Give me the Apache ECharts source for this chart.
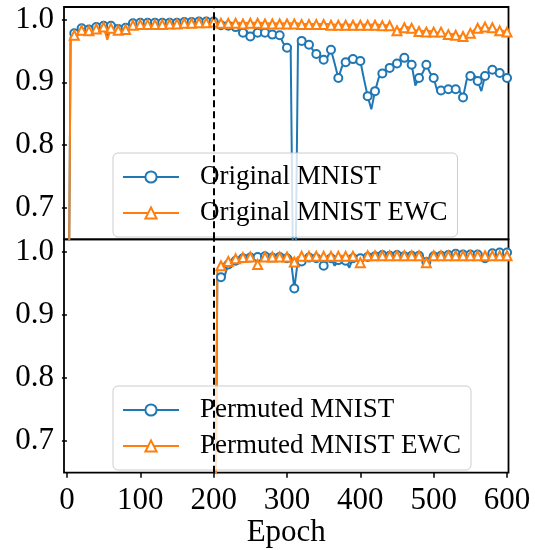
<!DOCTYPE html>
<html>
<head>
<meta charset="utf-8">
<script src="https://cdn.jsdelivr.net/npm/echarts@6/dist/echarts.min.js"></script>
<style>
html, body { margin: 0; padding: 0; background: #fff; }
#main { width: 535px; height: 550px; }
</style>
</head>
<body>
<div id="main"></div>
<script>
// epochs are logged every 5, a marker is drawn every 10
var epochStep = 5;
var markEvery = 10;
var xTicks = [0, 100, 200, 300, 400, 500, 600];
var yTicks = [0.7, 0.8, 0.9, 1.0];
var switchEpoch = 200;

// top panel, epochs 0..600
var origMnist = [
	0.10, 0.972, 0.978, 0.982, 0.986, 0.989, 0.984, 0.982, 0.988, 0.992,
	0.990, 0.972, 0.990, 0.992, 0.985, 0.984, 0.987, 0.990, 0.994, 0.996,
	0.995, 0.994, 0.995, 0.994, 0.995, 0.994, 0.995, 0.994, 0.995, 0.996,
	0.995, 0.995, 0.996, 0.995, 0.996, 0.996, 0.997, 0.996, 0.997, 0.998,
	0.997, 0.995, 0.991, 0.989, 0.990, 0.987, 0.988, 0.984, 0.979, 0.982,
	0.973, 0.981, 0.979, 0.982, 0.979, 0.980, 0.976, 0.978, 0.975, 0.962,
	0.955, 0.958, 0.400, 0.962, 0.966, 0.962, 0.960, 0.952, 0.945, 0.939,
	0.936, 0.940, 0.952, 0.930, 0.907, 0.925, 0.932, 0.940, 0.937, 0.939,
	0.934, 0.905, 0.878, 0.857, 0.886, 0.907, 0.914, 0.918, 0.923, 0.926,
	0.930, 0.937, 0.939, 0.936, 0.928, 0.895, 0.907, 0.915, 0.928, 0.915,
	0.907, 0.886, 0.887, 0.888, 0.889, 0.888, 0.889, 0.887, 0.876, 0.904,
	0.910, 0.912, 0.902, 0.886, 0.910, 0.916, 0.920, 0.918, 0.915, 0.912,
	0.907
];
var origEwc = [
	0.10, 0.965, 0.975, 0.980, 0.983, 0.986, 0.982, 0.980, 0.985, 0.990,
	0.988, 0.968, 0.986, 0.990, 0.983, 0.982, 0.984, 0.987, 0.991, 0.993,
	0.992, 0.991, 0.992, 0.993, 0.992, 0.993, 0.992, 0.993, 0.993, 0.994,
	0.993, 0.994, 0.994, 0.995, 0.994, 0.995, 0.995, 0.996, 0.995, 0.996,
	0.996, 0.995, 0.994, 0.995, 0.994, 0.995, 0.994, 0.995, 0.993, 0.995,
	0.994, 0.995, 0.994, 0.995, 0.993, 0.994, 0.993, 0.994, 0.993, 0.994,
	0.993, 0.994, 0.993, 0.994, 0.992, 0.993, 0.992, 0.993, 0.992, 0.993,
	0.992, 0.993, 0.991, 0.992, 0.991, 0.992, 0.991, 0.992, 0.991, 0.992,
	0.991, 0.992, 0.991, 0.992, 0.991, 0.992, 0.990, 0.991, 0.990, 0.983,
	0.982, 0.985, 0.987, 0.988, 0.986, 0.983, 0.981, 0.982, 0.980, 0.982,
	0.980, 0.979, 0.980, 0.977, 0.976, 0.977, 0.975, 0.974, 0.973, 0.971,
	0.978, 0.983, 0.986, 0.987, 0.988, 0.986, 0.987, 0.984, 0.982, 0.982,
	0.980
];

// bottom panel, epochs 200..600
var permMnist = [
	0.10, 0.957, 0.960, 0.962, 0.980, 0.984, 0.986, 0.987, 0.990, 0.989,
	0.991, 0.990, 0.992, 0.991, 0.993, 0.992, 0.991, 0.993, 0.992, 0.991,
	0.990, 0.991, 0.942, 0.988, 0.985, 0.990, 0.991, 0.990, 0.990, 0.988,
	0.978, 0.985, 0.990, 0.978, 0.987, 0.990, 0.986, 0.975, 0.990, 0.991,
	0.990, 0.993, 0.992, 0.994, 0.993, 0.991, 0.995, 0.993, 0.994, 0.992,
	0.995, 0.994, 0.993, 0.995, 0.994, 0.992, 0.994, 0.990, 0.984, 0.990,
	0.993, 0.995, 0.994, 0.996, 0.995, 0.996, 0.997, 0.994, 0.996, 0.997,
	0.996, 0.998, 0.996, 0.994, 0.990, 0.995, 0.998, 0.997, 0.999, 0.999,
	0.999
];
var permEwc = [
	0.10, 0.970, 0.978, 0.982, 0.985, 0.987, 0.989, 0.990, 0.991, 0.990,
	0.992, 0.990, 0.980, 0.991, 0.992, 0.993, 0.992, 0.993, 0.992, 0.993,
	0.992, 0.993, 0.984, 0.992, 0.993, 0.992, 0.993, 0.992, 0.993, 0.992,
	0.993, 0.992, 0.993, 0.992, 0.993, 0.994, 0.993, 0.994, 0.993, 0.994,
	0.983, 0.993, 0.994, 0.993, 0.994, 0.993, 0.994, 0.993, 0.994, 0.993,
	0.994, 0.993, 0.994, 0.993, 0.994, 0.993, 0.994, 0.993, 0.983, 0.993,
	0.994, 0.993, 0.994, 0.993, 0.994, 0.993, 0.994, 0.993, 0.994, 0.993,
	0.994, 0.993, 0.994, 0.993, 0.994, 0.993, 0.994, 0.993, 0.994, 0.993,
	0.994
];

var FONT = '"Liberation Serif", "DejaVu Serif", serif';
var BLUE = '#1f77b4';
var ORANGE = '#ff7f0e';

function toPoints(start, values) {
	return values.map(function(v, i) {
		var e = start + i * epochStep;
		var p = { value: [e, v] };
		if (e % markEvery !== 0) p.symbol = 'none';
		return p;
	});
}

function xAxisFor(idx, showLabels) {
	return {
		type: 'value',
		gridIndex: idx,
		min: -4,
		max: 602,
		axisLine: { show: false },
		splitLine: { show: false },
		axisTick: {
			show: showLabels,
			customValues: xTicks,
			length: 5,
			lineStyle: { color: '#000', width: 1.5 }
		},
		axisLabel: {
			show: showLabels,
			customValues: xTicks,
			margin: 13,
			color: '#000',
			fontFamily: FONT,
			fontSize: 31
		},
		name: showLabels ? 'Epoch' : '',
		nameLocation: 'middle',
		nameGap: 45,
		nameTextStyle: { color: '#000', fontFamily: FONT, fontSize: 31 }
	};
}

function yAxisFor(idx) {
	return {
		type: 'value',
		gridIndex: idx,
		min: 0.65,
		max: 1.02,
		axisLine: { show: false },
		splitLine: { show: false },
		axisTick: {
			show: true,
			customValues: yTicks,
			length: 5,
			lineStyle: { color: '#000', width: 1.5 }
		},
		axisLabel: {
			customValues: yTicks,
			margin: 10,
			color: '#000',
			fontFamily: FONT,
			fontSize: 31,
			formatter: function(v) { return v.toFixed(1); }
		}
	};
}

function lineSeries(name, idx, start, values, color, symbol, size, withMark) {
	var s = {
		name: name,
		type: 'line',
		xAxisIndex: idx,
		yAxisIndex: idx,
		data: toPoints(start, values),
		symbol: symbol,
		symbolSize: size,
		showAllSymbol: true,
		clip: true,
		color: color,
		lineStyle: { color: color, width: 2 },
		itemStyle: { color: color, borderWidth: 1.5 }
	};
	if (withMark) {
		s.markLine = {
			silent: true,
			symbol: 'none',
			label: { show: false },
			lineStyle: { color: '#000', type: [7, 4], width: 2 },
			data: [{ xAxis: switchEpoch }]
		};
	}
	return s;
}

function legendFor(idx, names, top) {
	return {
		data: names,
		orient: 'vertical',
		left: 113,
		top: top,
		padding: [10, 10, 10, 9],
		itemWidth: 56,
		itemHeight: 14,
		itemGap: 8,
		itemStyle: { borderWidth: 1.5 },
		backgroundColor: 'rgba(255,255,255,0.8)',
		borderColor: '#cccccc',
		borderWidth: 1,
		borderRadius: 5,
		textStyle: { color: '#000', fontFamily: FONT, fontSize: 27, lineHeight: 28, padding: [0, 0, 0, 16] }
	};
}

var chart = echarts.init(document.getElementById('main'));
chart.setOption({
	animation: false,
	backgroundColor: '#fff',
	grid: [
		{ left: 64, top: 7, width: 444.5, height: 232.3, show: true, borderColor: '#000', borderWidth: 1.8 },
		{ left: 64, top: 239.3, width: 444.5, height: 233.4, show: true, borderColor: '#000', borderWidth: 1.8 }
	],
	xAxis: [xAxisFor(0, false), xAxisFor(1, true)],
	yAxis: [yAxisFor(0), yAxisFor(1)],
	legend: [
		legendFor(0, ['Original MNIST', 'Original MNIST EWC'], 153),
		legendFor(1, ['Permuted MNIST', 'Permuted MNIST EWC'], 386)
	],
	series: [
		lineSeries('Original MNIST', 0, 0, origMnist, BLUE, 'emptyCircle', 8, true),
		lineSeries('Original MNIST EWC', 0, 0, origEwc, ORANGE, 'emptyTriangle', 9, false),
		lineSeries('Permuted MNIST', 1, switchEpoch, permMnist, BLUE, 'emptyCircle', 8, true),
		lineSeries('Permuted MNIST EWC', 1, switchEpoch, permEwc, ORANGE, 'emptyTriangle', 9, false)
	]
});
</script>
</body>
</html>
